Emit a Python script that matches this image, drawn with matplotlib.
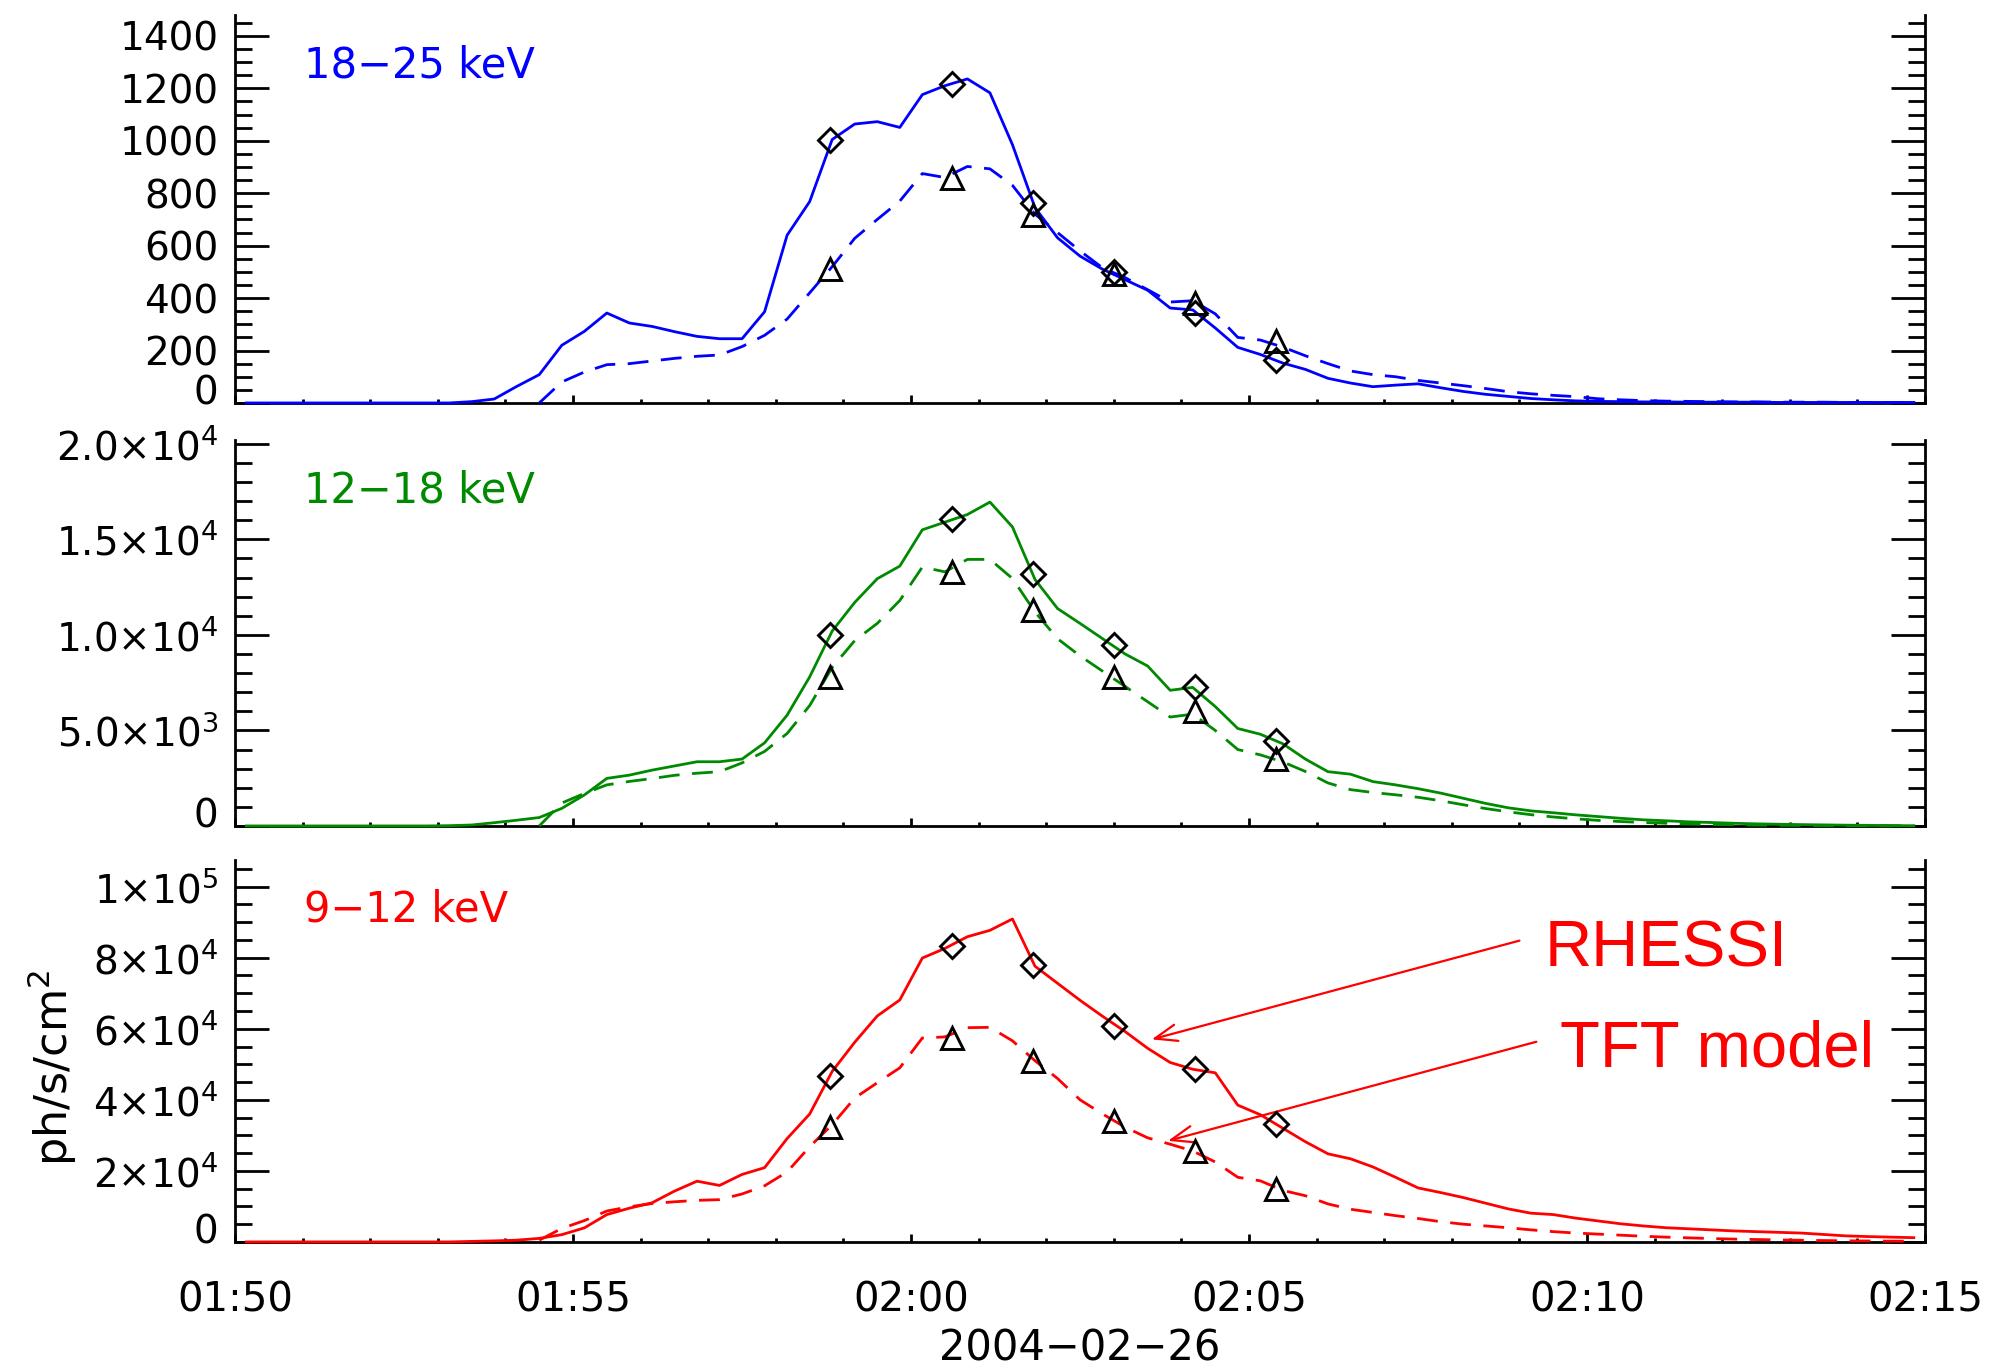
import numpy as np
import matplotlib
matplotlib.use("Agg")
import matplotlib.pyplot as plt
from matplotlib.ticker import MultipleLocator

plt.rcParams["font.family"] = ["DejaVu Sans"]
plt.rcParams["mathtext.fontset"] = "dejavusans"

NAN = np.nan

# 20 s bins, bin centre in minutes after 01:50:00
t_min = (np.arange(75) * 20 + 10) / 60.0

# ---- 18-25 keV ----
rhessi_hi = ([0] * 10 +
             [5, 15, 63, 108, 220, 273, 343, 305, 292, 272,
              254, 245, 245, 348, 640, 768, 1005, 1064, 1073, 1051,
              1176, 1210, 1236, 1183, 985, 745, 630, 560, 510, 470,
              430, 362, 355, 286, 212, 185, 152, 128, 94, 76,
              62, 68, 73, 58, 44, 33, 25, 17, 12, 8, 6] +
             [5, 4, 4, 3, 3, 3, 3, 2, 2, 2, 2, 2, 2, 2])
tft_hi = ([NAN] * 13 +
          [0, 80, 118, 146, 150, 160, 170, 178, 183, 215,
           258, 320, 420, 520, 628, 700, 770, 875, 860, 902,
           893, 830, 720, 650, 580, 515, 478, 432, 385, 390,
           340, 250, 240, 213, 180, 150, 122, 108, 100, 86,
           76, 66, 55, 43, 35, 29, 24, 16, 12, 9, 7] +
          [6, 5, 4, 4, 3, 3, 3, 2, 2, 2, 2])

# ---- 12-18 keV ----
rhessi_mid = ([0] * 9 +
              [15, 50, 170, 300, 440, 920, 1620, 2490, 2660, 2920,
               3140, 3360, 3360, 3500, 4350, 5800, 7800, 10200, 11700, 12940,
               13600, 15500, 15900, 16300, 16950, 15650, 12900, 11380, 10600, 9800,
               9000, 8370, 7100, 7250, 6250, 5100, 4800, 4300, 3500, 2840,
               2710, 2320, 2150, 1950, 1720, 1450, 1180, 950, 790, 690,
               580, 490, 400, 320, 270, 215, 180, 140, 110, 90,
               70, 55, 40, 30, 20, 10])
tft_mid = ([NAN] * 13 +
           [0, 1200, 1700, 2150, 2330, 2480, 2650, 2760, 2840, 3300,
            3900, 4840, 6300, 8300, 9700, 10600, 11800, 13550, 13300, 13950,
            13950, 12950, 11200, 9800, 8900, 8100, 7300, 6500, 5700, 5850,
            5000, 4000, 3720, 3350, 2850, 2250, 1900, 1750, 1630, 1500,
            1320, 1110, 910, 740, 590, 470, 370, 290, 230, 180,
            140, 110, 80, 60, 45, 35, 28, 22, 18, 14, 10, 8])

# ---- 9-12 keV ----
rhessi_lo = ([0] * 10 +
             [150, 300, 500, 1000, 2050, 3950, 7700, 9500, 11000, 14300,
              17100, 15900, 19000, 20900, 29100, 36000, 48000, 56200, 63600, 68100,
              79900, 82600, 85900, 87700, 90900, 77600, 72800, 68000, 63500, 59200,
              54500, 50500, 48600, 47600, 38500, 35800, 32000, 28200, 24800, 23400,
              21100, 18200, 15200, 13900, 12500, 10900, 9300, 8100, 7700, 6700,
              5900, 5100, 4500, 4000, 3700, 3400, 3100, 2900, 2700, 2500,
              2100, 1700, 1500, 1350, 1200])
tft_lo = ([NAN] * 13 +
          [500, 3800, 6000, 8700, 9900, 10800, 11300, 11700, 11900, 13500,
           15800, 19700, 26800, 33000, 40500, 44800, 49000, 57400, 57700, 60300,
           60400, 56600, 51000, 46000, 40000, 36000, 32300, 29300, 27500, 25600,
           22500, 18200, 17200, 14500, 13000, 10700, 9200, 8300, 7400, 6600,
           5700, 5000, 4500, 4000, 3400, 2900, 2500, 2200, 1900, 1600,
           1350, 1150, 950, 800, 680, 570, 470, 390, 320, 270, 220, 180])

# model comparison times (min after 01:50)
mark_t = [8.8, 10.6, 11.8, 13.0, 14.2, 15.4]
dia_hi = [1003, 1217, 762, 500, 342, 165]
tri_hi = [512, 857, 718, 490, 380, 235]
dia_mid = [10000, 16050, 13200, 9450, 7250, 4450]
tri_mid = [7800, 13300, 11300, 7780, 6000, 3520]
dia_lo = [46700, 83300, 78000, 60800, 48600, 33300]
tri_lo = [32300, 57300, 51000, 34100, 25600, 15000]

x_ticks = [0, 5, 10, 15, 20, 25]
x_labels = ["01:50", "01:55", "02:00", "02:05", "02:10", "02:15"]

yt_hi = [0, 200, 400, 600, 800, 1000, 1200, 1400]
yl_hi = ["0", "200", "400", "600", "800", "1000", "1200", "1400"]
yt_mid = [0, 5000, 10000, 15000, 20000]
yl_mid = ["0", r"$5.0{\times}10^{3}$", r"$1.0{\times}10^{4}$",
          r"$1.5{\times}10^{4}$", r"$2.0{\times}10^{4}$"]
yt_lo = [0, 20000, 40000, 60000, 80000, 100000]
yl_lo = ["0", r"$2{\times}10^{4}$", r"$4{\times}10^{4}$", r"$6{\times}10^{4}$",
         r"$8{\times}10^{4}$", r"$1{\times}10^{5}$"]

panels = [
    (rhessi_hi, tft_hi, dia_hi, tri_hi, "#0000ff", "18\u221225 keV",
     1480, yt_hi, yl_hi, 50, [0.118, 0.7063, 0.8484, 0.2828]),
    (rhessi_mid, tft_mid, dia_mid, tri_mid, "#008a00", "12\u221218 keV",
     20200, yt_mid, yl_mid, 1000, [0.118, 0.398, 0.8484, 0.2813]),
    (rhessi_lo, tft_lo, dia_lo, tri_lo, "#ff0000", "9\u221212 keV",
     107500, yt_lo, yl_lo, 5000, [0.118, 0.0948, 0.8484, 0.2784]),
]

fig = plt.figure(figsize=(19.92, 13.72), dpi=100)
axes = []
for obs, mod, dia, tri, col, band, ytop, yt, yl, ymin_step, rect in panels:
    ax = fig.add_axes(rect)
    axes.append(ax)
    ax.plot(t_min, obs, color=col, lw=2.0, clip_on=False, zorder=3)
    ax.plot(t_min, mod, color=col, lw=2.0, ls=(0, (7.5, 4.5)), clip_on=False, zorder=3)
    ax.plot(mark_t, dia, ls="none", marker="D", ms=12, mfc="none",
            mec="k", mew=2.1, zorder=4)
    ax.plot(mark_t, tri, ls="none", marker="^", ms=16.5, mfc="none",
            mec="k", mew=2.1, zorder=4)

    ax.set_xlim(0, 25)
    ax.set_ylim(0, ytop)
    ax.spines["top"].set_visible(False)
    for s in ("left", "right", "bottom"):
        ax.spines[s].set_linewidth(2)

    ax.set_xticks(x_ticks, [""] * len(x_ticks))
    ax.xaxis.set_minor_locator(MultipleLocator(1))
    ax.set_yticks(yt, [""] + yl[1:])
    ax.yaxis.set_minor_locator(MultipleLocator(ymin_step))

    ax.tick_params(axis="y", which="both", direction="in", left=True,
                   right=True, width=2, labelsize=28, pad=12)
    ax.tick_params(axis="y", which="major", length=24.5)
    ax.tick_params(axis="y", which="minor", length=12)
    ax.tick_params(axis="x", which="both", direction="in", top=False, width=2)
    ax.tick_params(axis="x", which="major", length=5.8, labelsize=29, pad=28)
    ax.tick_params(axis="x", which="minor", length=2.9)

    # IDL puts the zero label just above the axis
    ax.annotate(yl[0], xy=(0, 0), xycoords=("axes fraction", "data"),
                xytext=(-12, 7), textcoords="offset points",
                ha="right", va="center", fontsize=28)
    ax.text(0.041, 0.87, band, transform=ax.transAxes, color=col,
            fontsize=30, ha="left", va="center")

axes[-1].set_xticks(x_ticks, x_labels)

# labels
fig.text(0.026, 0.222, "ph/s/cm$^{2}$", rotation=90, fontsize=32,
         ha="center", va="center")
fig.text(0.5422, 0.0168, "2004\u221202\u221226", fontsize=30,
         ha="center", va="center")

# arrows pointing at the two curves
axb = axes[-1]
arrow = dict(arrowstyle="->,head_length=0.8,head_width=0.3", color="red",
             lw=1.6, mutation_scale=20, shrinkA=0, shrinkB=0)
axb.annotate("", xy=(13.56, 57000), xytext=(19.0, 84800), arrowprops=arrow)
axb.annotate("", xy=(13.8, 28450), xytext=(19.25, 56340), arrowprops=arrow)
axb.text(19.37, 77460, "RHESSI", color="red", fontsize=47,
         family="Liberation Sans", ha="left", va="baseline")
axb.text(19.6, 49300, "TFT model", color="red", fontsize=47,
         family="Liberation Sans", ha="left", va="baseline")

fig.savefig("out.png", dpi=100)
